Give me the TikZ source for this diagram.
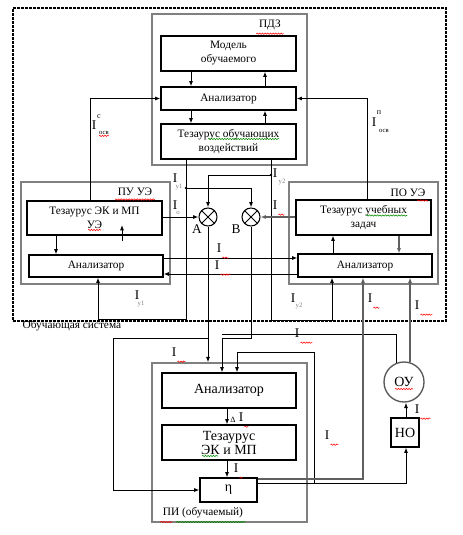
\documentclass[tikz,border=0pt]{standalone}
\usepackage{fontspec}
\setmainfont{Liberation Serif}
\usetikzlibrary{arrows.meta,calc,decorations.pathmorphing}
\newcommand\Ilab[3]{\node[lab] (#1) at (#2) {I}; \draw[sq] ($(#1.south east)+(1,5)$) -- ++(#3,0);}
\begin{document}
\begin{tikzpicture}[x=0.75pt,y=-0.75pt,
  every node/.style={font=\fontsize{8.5}{10.5}\selectfont},
  box/.style={draw=black, line width=0.8pt, fill=white, align=center, inner sep=0pt},
  big/.style={font=\fontsize{10.5}{10.5}\selectfont},
  grp/.style={draw=gray, line width=1.1pt, inner sep=0pt},
  ln/.style={line width=0.75pt, black},
  gln/.style={line width=1.1pt, gray!75!black},
  arr/.style={-{Latex[length=4pt,width=3pt]}},
  lab/.style={inner sep=0pt, font=\fontsize{10}{11}\selectfont},
  sub/.style={inner sep=0pt, text=gray, font=\fontsize{5}{5}\selectfont},
  sq/.style={red, line width=0.4pt, decorate, decoration={snake, amplitude=0.5pt, segment length=2pt}},
  gsq/.style={sq, draw=green!55!black},
  sz/.style n args={2}{minimum width=#1*0.75pt, minimum height=#2*0.75pt}
]
\useasboundingbox (0,0) rectangle (462,535);
\fill[white] (0,0) rectangle (462,535);

% group frames
\node[draw, dashed, line width=0.8pt, dash pattern=on 2pt off 1pt, sz={433}{313}, inner sep=0pt] (sys) at (229.5,164.5) {};
\node[grp, sz={155}{151}] (pdz) at (229.5,89.5) {};
\node[grp, sz={149}{102}] (puue) at (95.5,233) {};
\node[grp, sz={149}{102}] (poue) at (363.5,233) {};
\node[grp, sz={155}{159}] (pi) at (229.5,442.5) {};

% boxes
\node[box, sz={135}{35}] (model) at (228.5,53.5) {Модель\\обучаемого};
\node[box, sz={135}{23}] (an1) at (228.5,98.5) {Анализатор};
\node[box, sz={135}{35}] (tov) at (228.5,141.5) {Тезаурус обучающих\\воздействий};
\node[box, sz={135}{34}] (tek1) at (94.5,218) {Тезаурус ЭК и МП\\УЭ};
\node[box, sz={134}{22}] (an2) at (96,266) {Анализатор};
\node[box, sz={135}{35}] (tuz) at (363.5,217.5) {Тезаурус учебных\\задач};
\node[box, sz={134}{23}] (an3) at (365,265.5) {Анализатор};
\node[box, big, sz={134}{35}] (an4) at (229,390.5) {Анализатор};
\node[box, big, sz={134}{35}] (tek2) at (229,442.5) {Тезаурус\\ЭК и МП};
\node[box, big, sz={57}{24}] (eta) at (228.5,490) {η};
\node[box, big, circle, draw=gray!70!black, line width=1pt, sz={40}{40}] (ou) at (404,382) {ОУ};
\node[box, big, sz={28}{29}] (no) at (405,432.5) {НО};
\node[box, circle, sz={18}{18}] (A) at (208,217) {};
\node[box, circle, sz={18}{18}] (B) at (251,217) {};
\draw[ln] (A.north west) -- (A.south east) (A.north east) -- (A.south west);
\draw[ln] (B.north west) -- (B.south east) (B.north east) -- (B.south west);

% columns and rows
\foreach \c in {56,90,98,113,186,191,222,227,237,265,271,314,332,333,363,367,399,406}
  \coordinate (k\c) at (\c,0);
\foreach \r in {175,188,217,258,274,319,320,334,338,352,479,483}
  \coordinate (r\r) at (0,\r);
\coordinate (p122a) at (122,241);
\coordinate (p122b) at (122,225);

% ПДЗ
\draw[ln,arr] (k191 |- model.south) -- (k191 |- an1.north);
\draw[ln,arr] (k265 |- an1.north) -- (k265 |- model.south);
\draw[ln,arr] (k191 |- an1.south) -- (k191 |- tov.north);
\draw[ln,arr] (k265 |- tov.north) -- (k265 |- an1.south);
\draw[ln,arr] (k90 |- tek1.north) |- (an1.west);
\draw[ln,arr] (k367 |- tuz.north) |- (an1.east);
% ПУ УЭ
\draw[ln,arr] (k56 |- tek1.south) -- (k56 |- an2.north);
\draw[ln,arr] (p122a) -- (p122b);
\draw[ln,arr] (k186 |- tov.south) -- (k186 |- r319) -- (k98 |- r319) -- (k98 |- an2.south);
\draw[ln,arr] (k186 |- r188) -| (B.north);
\fill (k186 |- r188) circle[radius=1.1pt];
\draw[ln,arr] (k271 |- tov.south) -- (k271 |- r320) -- (k332 |- r320) -- (k332 |- an3.south);
\draw[ln,arr] (k271 |- r175) -| (A.north);
\fill (k271 |- r175) circle[radius=1.1pt];
\draw[ln,arr] (r217 -| tek1.east) -- (A.west);
\draw[gln,arr] (r217 -| tuz.west) -- (B.east);
\draw[ln,arr] (r258 -| an2.east) -- (r258 -| an3.west);
\draw[ln,arr] (r274 -| an3.west) -- (r274 -| an2.east);
% ПО УЭ
\draw[ln,arr] (k333 |- an3.north) -- (k333 |- tuz.south);
\draw[gln,arr] (k399 |- tuz.south) -- (k399 |- an3.north);
% lower part
\draw[ln,arr] (A.south) -- (A.south |- pi.north);
\draw[ln,arr] (A.south |- r338) -- (k113 |- r338) |- (eta.west);
\draw[ln,arr] (B.south) -- (B.south |- r338) -- (k222 |- r338) -- (k222 |- an4.north);
\draw[ln] (ou.110) -- (ou.110 |- r334) -- (k222 |- r334);
\draw[gln,arr] (ou.73) -- (ou.73 |- an3.south);
\draw[ln,arr] (r483 -| eta.east) -- (k314 |- r483) -- (k314 |- r352) -- (k237 |- r352) -- (k237 |- an4.north);
\draw[gln,arr] (r479 -| eta.east) -- (k363 |- r479) -- (k363 |- an3.south);
\draw[ln,arr] (r483 -| eta.east) -- (k406 |- r483) -- (k406 |- no.south);
\draw[ln,arr] (k406 |- no.north) -- (k406 |- ou.south);
\draw[ln,arr] (k227 |- an4.south) -- (k227 |- tek2.north);
\draw[ln,arr] (k227 |- tek2.south) -- (k227 |- eta.north);

% titles
\node (tpdz) at (270,25) {ПДЗ};
\draw[sq] ($(tpdz.south west)+(2,-1)$) -- ($(tpdz.south east)+(-2,-1)$);
\node (tpu) at (135,192) {ПУ УЭ};
\draw[sq] ($(tpu.south west)+(2,-1)$) -- ($(tpu.south east)+(-2,-1)$);
\node (tpo) at (408,193) {ПО УЭ};
\draw[sq] ($(tpo.south east)+(-13,-1)$) -- ($(tpo.south east)+(-2,-1)$);
\node (tpi) at (203,513) {ПИ (обучаемый)};
\draw[sq] ($(tpi.south west)+(2,-1)$) -- ++(12,0);
\draw[gsq] ($(tpi.south west)+(18,-1)$) -- ($(tpi.south east)+(-2,-1)$);
\node[anchor=west] (tsys) at (18,326) {Обучающая система};
% spelling squiggles inside boxes
\draw[gsq] (208,139) -- (279,139);
\draw[gsq] (366,215.5) -- (407,215.5);
\draw[sq] (88,230) -- (101,230);
\draw[gsq] (202,456) -- (218,456);
\draw[sq] (395,389) -- (413,389);

% labels
\node[lab] (lc) at (94,125) {I};
\node[sub, text=black, font=\fontsize{6}{6}\selectfont] (lcs) at (99,117) {c};
\node[sub, text=black] (lcb) at (104,133) {осв};
\draw[sq] ($(lcb.south west)+(0,1)$) -- ($(lcb.south east)+(0,1)$);
\node[lab] (lp) at (374,122) {I};
\node[sub, text=black, font=\fontsize{6}{6}\selectfont] (lps) at (379,113) {п};
\node[sub, text=black] (lpb) at (384,131) {осв};

\node[lab] (ly1a) at (175,178) {I};
\node[sub] (ly1as) at (179,187) {y1};
\node[lab] (ly2a) at (275,173) {I};
\node[sub] (ly2as) at (282,182) {y2};
\node[lab] (lo) at (175,205) {I};
\node[sub] (los) at (178,213) {о};
\Ilab{lsh1}{275,205}{6}
\node[lab] (lA) at (197,229) {A};
\node[lab] (lB) at (236,229) {B};
\Ilab{lsh2}{219,248}{6}
\Ilab{lsh3}{217,265}{10}
\node[lab] (ly1b) at (137,295) {I};
\node[sub] (ly1bs) at (141,304) {y1};
\node[lab] (ly2b) at (293,298) {I};
\node[sub] (ly2bs) at (299,306) {y2};
\Ilab{lsh4}{370,298}{6}
\Ilab{lsh5}{417,305}{12}
\Ilab{lsh6}{297,333}{12}
\Ilab{lsh7}{174,352}{8}
\node[inner sep=0pt, font=\fontsize{6}{6}\selectfont] (ld) at (233,420) {Δ};
\Ilab{lsh8}{241,417}{4}
\Ilab{lsh9}{236,468}{3}
\Ilab{lsh10}{327,435}{8}
\Ilab{lsh11}{417,409}{10}
\end{tikzpicture}
\end{document}
